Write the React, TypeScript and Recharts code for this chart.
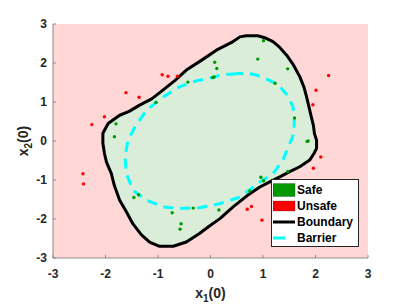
import { ScatterChart, Scatter, XAxis, YAxis, CartesianGrid, Legend } from 'recharts';

// axis ticks shared by all four sides of the box
const axisTicks = [-3, -2, -1, 0, 1, 2, 3];

// closed boundary of the safe region, clockwise from the top
const boundaryPoints = [
  [0.56, 2.67], [0.68, 2.7], [0.9, 2.7], [1.05, 2.64], [1.19, 2.55], [1.32, 2.4],
  [1.45, 2.2], [1.58, 1.95], [1.7, 1.65], [1.78, 1.38], [1.83, 1.13], [1.88, 0.85],
  [1.92, 0.62], [1.96, 0.4], [1.98, 0.19], [2.02, 0.02], [2.02, -0.19], [1.98, -0.3],
  [1.89, -0.49], [1.7, -0.66], [1.5, -0.79], [1.32, -0.92], [1.13, -1.05], [0.94, -1.18],
  [0.7, -1.4], [0.43, -1.69], [0.18, -1.99], [-0.02, -2.18], [-0.21, -2.37], [-0.46, -2.59],
  [-0.71, -2.7], [-0.97, -2.7], [-1.16, -2.59], [-1.32, -2.4], [-1.48, -2.12], [-1.6, -1.82],
  [-1.73, -1.52], [-1.83, -1.15], [-1.89, -0.83], [-1.98, -0.55], [-2.02, -0.32], [-2.05, -0.05],
  [-2.05, 0.2], [-1.95, 0.45], [-1.73, 0.66], [-1.55, 0.76], [-1.35, 0.92], [-1.12, 1.08],
  [-0.9, 1.31], [-0.68, 1.55], [-0.46, 1.82], [-0.16, 2.08], [0.14, 2.35], [0.43, 2.55],
];

// learned barrier level set
const barrierPoints = [
  [0.43, 1.72], [0.68, 1.74], [0.85, 1.7], [1.0, 1.63], [1.19, 1.51], [1.35, 1.35],
  [1.46, 1.18], [1.57, 0.88], [1.6, 0.6], [1.59, 0.3], [1.56, 0.08], [1.48, -0.15],
  [1.38, -0.49], [1.19, -0.84], [0.94, -1.05], [0.56, -1.44], [0.17, -1.61], [-0.21, -1.71],
  [-0.59, -1.73], [-0.9, -1.69], [-1.22, -1.52], [-1.48, -1.26], [-1.6, -0.84], [-1.63, -0.41],
  [-1.57, 0.02], [-1.44, 0.36], [-1.22, 0.79], [-0.9, 1.13], [-0.59, 1.39], [-0.33, 1.52],
  [-0.21, 1.56], [0.04, 1.63], [0.2, 1.69],
];

const safePoints = [
  [1.01, 2.57], [0.9, 2.1], [0.08, 2.02], [0.12, 1.86], [0.04, 1.63], [0.07, 1.64],
  [1.47, 1.85], [1.23, 1.48], [-0.43, 1.51], [-1.04, 0.99], [-1.8, 0.44], [-1.83, 0.11],
  [1.6, 0.59], [1.84, -0.01], [1.86, 0.0], [1.47, -0.78], [1.01, -1.02], [0.96, -0.93],
  [0.75, -1.28], [0.16, -1.77], [-0.33, -1.72], [-0.73, -1.84], [-0.56, -2.12], [-0.58, -2.26],
  [-1.46, -1.45], [-1.37, -1.38],
];

const unsafePoints = [
  [-0.92, 1.7], [-0.81, 1.66], [-0.63, 1.66], [-1.61, 1.24], [-1.36, 1.12], [-2.02, 0.62],
  [-2.26, 0.42], [-2.43, -0.84], [-2.42, -1.1], [2.25, 1.68], [2.01, 1.3], [1.95, 0.93],
  [2.1, -0.41], [1.96, -0.7], [0.7, -1.75], [0.78, -1.68], [0.98, -2.03],
];

const legendLabels = ['Safe', 'Unsafe', 'Boundary', 'Barrier'];

const toXY = (pts: number[][]) => pts.map(([x, y]) => ({ x, y }));

const GREEN = '#009900';
const RED = '#ff0000';
const CYAN = '#00ffff';
const AXIS_GRAY = '#8c8c8c';
const FONT = '"Liberation Sans", Arial, sans-serif';

const noShape = () => <g />;
const dotShape = (color: string) => (props: any) =>
  <circle cx={props.cx} cy={props.cy} r={1.7} fill={color} />;

const tickStyle = { fill: '#262626', fontSize: 12, fontWeight: 'bold', fontFamily: FONT };

function XTitle(props: any) {
  const vb = props.viewBox || {};
  const cx = (vb.x ?? 53) + (vb.width ?? 315) / 2;
  return (
    <text x={cx} y={298} textAnchor="middle" fill="#262626" fontSize={14} fontWeight="bold" fontFamily={FONT}>
      <tspan>x</tspan>
      <tspan dy={4} fontSize={10}>1</tspan>
      <tspan dy={-4}>(0)</tspan>
    </text>
  );
}

function YTitle(props: any) {
  const vb = props.viewBox || {};
  const cy = (vb.y ?? 24) + (vb.height ?? 234) / 2;
  return (
    <text
      x={28}
      y={cy}
      transform={`rotate(-90, 28, ${cy})`}
      textAnchor="middle"
      fill="#262626"
      fontSize={14}
      fontWeight="bold"
      fontFamily={FONT}
    >
      <tspan>x</tspan>
      <tspan dy={4} fontSize={10}>2</tspan>
      <tspan dy={-4}>(0)</tspan>
    </text>
  );
}

function swatch(i: number) {
  if (i === 0) return <rect x={0} y={1.5} width={22} height={13} fill={GREEN} stroke="rgba(0,0,0,0.35)" strokeWidth={0.6} />;
  if (i === 1) return <rect x={0} y={3} width={22} height={10} fill={RED} stroke="rgba(0,0,0,0.35)" strokeWidth={0.6} />;
  if (i === 2) return <line x1={0} x2={22} y1={8} y2={8} stroke="#000" strokeWidth={3} />;
  return <line x1={0} x2={22} y1={8} y2={8} stroke={CYAN} strokeWidth={3} strokeDasharray="12 12" />;
}

function LegendBox() {
  return (
    <div
      style={{
        boxSizing: 'border-box',
        width: 88,
        height: 68,
        border: '1px solid #262626',
        background: '#fff',
        padding: '2px 1px',
        fontFamily: FONT,
        fontSize: 12,
        fontWeight: 'bold',
        color: '#000',
      }}
    >
      {legendLabels.map((name, i) => (
        <div key={name} style={{ display: 'flex', alignItems: 'center', height: 16 }}>
          <svg width={24} height={16} style={{ flex: 'none' }}>
            {swatch(i)}
          </svg>
          <span style={{ lineHeight: '16px' }}>{name}</span>
        </div>
      ))}
    </div>
  );
}

export default function App() {
  return (
    <div style={{ position: 'absolute', left: 0, top: 0, width: 407, height: 306, background: '#fff' }}>
      <ScatterChart width={407} height={306} margin={{ top: 24, right: 39, bottom: 0, left: 0 }}>
        <CartesianGrid fill="#ffd7d7" fillOpacity={1} horizontal={false} vertical={false} />
        <XAxis
          type="number"
          dataKey="x"
          domain={[-3, 3]}
          ticks={axisTicks}
          interval={0}
          allowDataOverflow
          height={48}
          tickSize={-3}
          tickMargin={14}
          axisLine={{ stroke: AXIS_GRAY }}
          tickLine={{ stroke: AXIS_GRAY }}
          tick={tickStyle}
          label={(p: any) => <XTitle {...p} />}
        />
        <XAxis
          xAxisId="top"
          orientation="top"
          type="number"
          domain={[-3, 3]}
          ticks={axisTicks}
          interval={0}
          allowDataOverflow
          height={0}
          tickSize={-3}
          axisLine={{ stroke: AXIS_GRAY }}
          tickLine={{ stroke: AXIS_GRAY }}
          tick={false}
        />
        <YAxis
          type="number"
          dataKey="y"
          domain={[-3, 3]}
          ticks={axisTicks}
          interval={0}
          allowDataOverflow
          width={53}
          tickSize={-3}
          tickMargin={9}
          axisLine={{ stroke: AXIS_GRAY }}
          tickLine={{ stroke: AXIS_GRAY }}
          tick={tickStyle}
          label={(p: any) => <YTitle {...p} />}
        />
        <YAxis
          yAxisId="right"
          orientation="right"
          type="number"
          domain={[-3, 3]}
          ticks={axisTicks}
          interval={0}
          allowDataOverflow
          width={0}
          tickSize={-3}
          axisLine={{ stroke: AXIS_GRAY }}
          tickLine={{ stroke: AXIS_GRAY }}
          tick={false}
        />
        <Scatter
          name="Boundary"
          data={toXY(boundaryPoints)}
          shape={noShape}
          line={{ stroke: '#000', strokeWidth: 3, fill: '#d9edd9', strokeLinejoin: 'round' }}
          lineJointType="linearClosed"
          isAnimationActive={false}
        />
        <Scatter
          name="Barrier"
          data={toXY(barrierPoints)}
          shape={noShape}
          line={{ stroke: CYAN, strokeWidth: 3, fill: 'none', strokeDasharray: '10 7' }}
          lineJointType="linearClosed"
          isAnimationActive={false}
        />
        <Scatter name="Safe" data={toXY(safePoints)} shape={dotShape(GREEN)} isAnimationActive={false} />
        <Scatter name="Unsafe" data={toXY(unsafePoints)} shape={dotShape(RED)} isAnimationActive={false} />
        <Legend
          layout="vertical"
          align="center"
          verticalAlign="middle"
          wrapperStyle={{ left: 271, top: 179, width: 88, height: 68 }}
          content={() => <LegendBox />}
        />
      </ScatterChart>
    </div>
  );
}
